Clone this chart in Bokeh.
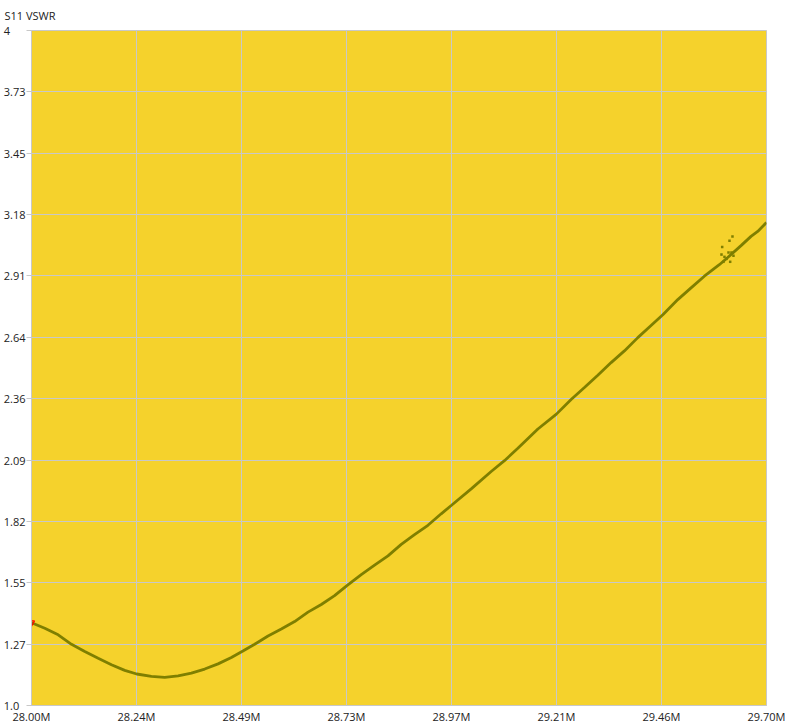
from bokeh.plotting import figure
from bokeh.models import Range1d, FixedTicker, ColumnDataSource
from bokeh.embed import file_html
from bokeh.resources import INLINE

# ---- data ----
freq_mhz = [28.0000, 28.0307, 28.0617, 28.0925, 28.1232, 28.1542, 28.1849, 28.2156,
            28.2434, 28.2774, 28.3081, 28.3391, 28.3698, 28.4006, 28.4315, 28.4623,
            28.4900, 28.5161, 28.5471, 28.5778, 28.6086, 28.6395, 28.6703, 28.7010,
            28.7288, 28.7627, 28.7935, 28.8245, 28.8552, 28.8859, 28.9169, 28.9476,
            28.9708, 29.0170, 29.0632, 29.0939, 29.1249, 29.1712, 29.2141, 29.2481,
            29.2789, 29.3098, 29.3406, 29.3713, 29.4023, 29.4330, 29.4608, 29.4948,
            29.5255, 29.5562, 29.5909, 29.6103, 29.6411, 29.6642, 29.6797, 29.7000]
vswr = [1.368, 1.343, 1.314, 1.272, 1.240, 1.210, 1.181, 1.156,
        1.140, 1.129, 1.125, 1.132, 1.144, 1.162, 1.185, 1.213,
        1.243, 1.272, 1.309, 1.340, 1.373, 1.415, 1.449, 1.488,
        1.532, 1.582, 1.624, 1.665, 1.716, 1.759, 1.801, 1.852,
        1.889, 1.963, 2.040, 2.088, 2.143, 2.229, 2.295, 2.360,
        2.413, 2.468, 2.524, 2.576, 2.635, 2.689, 2.738, 2.804,
        2.856, 2.908, 2.959, 2.991, 3.044, 3.085, 3.107, 3.147]

outlier_freq = [29.5975, 29.6144, 29.6213, 29.5959, 29.6121, 29.6190,
                29.6028, 29.6236, 29.6005, 29.6160, 29.6075]
outlier_vswr = [3.038, 3.066, 3.084, 3.004, 3.013, 3.013,
                2.994, 2.999, 2.972, 2.972, 2.985]

x_ticks = [28.0, 28.2429, 28.4857, 28.7286, 28.9714, 29.2143, 29.4571, 29.7]
x_tick_labels = ["28.00M", "28.24M", "28.49M", "28.73M", "28.97M", "29.21M", "29.46M", "29.70M"]
y_ticks = [1.0, 1.2727, 1.5455, 1.8182, 2.0909, 2.3636, 2.6364, 2.9091, 3.1818, 3.4545, 3.7273, 4.0]
y_tick_labels = ["1.0", "1.27", "1.55", "1.82", "2.09", "2.36", "2.64", "2.91", "3.18", "3.45", "3.73", "4"]

TITLE = "S11 VSWR"

# ---- styles / layout ----
FONT = "Open Sans"
TXT = "#222222"
BG = "#F5D22C"
GRID = "#C8C8C8"
CURVE = "#7F7F00"
W, H = 785, 726
FIGURE_SPACE, PUNCT_SPACE = "\u2007", "\u2008"


def left_pad(s, width=4):
    """Pad on the right with digit/period-wide spaces so right-aligned labels line up on the left."""
    if "." not in s:
        s += PUNCT_SPACE
    while len(s) < width:
        s += FIGURE_SPACE
    return s


p = figure(width=W, height=H, output_backend="svg", toolbar_location=None,
           x_range=Range1d(x_ticks[0], x_ticks[-1]), y_range=Range1d(y_ticks[0], y_ticks[-1]),
           min_border_left=30, min_border_right=19, min_border_top=30, min_border_bottom=18,
           title=TITLE)

p.background_fill_color = BG
p.border_fill_color = "white"
p.outline_line_color = GRID
p.outline_line_width = 1

p.title.text_font = FONT
p.title.text_font_size = "11px"
p.title.text_font_style = "normal"
p.title.text_color = TXT
p.title.align = "left"
p.title.offset = -27
p.title.vertical_align = "top"
p.title.standoff = 12

# x axis
p.xaxis.ticker = FixedTicker(ticks=x_ticks)
p.xaxis.major_label_overrides = {t: l for t, l in zip(x_ticks, x_tick_labels)}
p.xaxis.major_label_text_font = FONT
p.xaxis.major_label_text_font_size = "11px"
p.xaxis.major_label_text_color = TXT
p.xaxis.major_tick_out = 0
p.xaxis.major_tick_in = 0
p.xaxis.minor_tick_out = 0
p.xaxis.minor_tick_in = 0
p.xaxis.major_label_standoff = 3
p.xaxis.axis_line_color = GRID

# y axis
p.yaxis.ticker = FixedTicker(ticks=y_ticks)
p.yaxis.major_label_overrides = {t: left_pad(l) for t, l in zip(y_ticks, y_tick_labels)}
p.yaxis.major_label_text_font = FONT
p.yaxis.major_label_text_font_size = "11px"
p.yaxis.major_label_text_color = TXT
p.yaxis.major_tick_out = 5
p.yaxis.major_tick_in = 0
p.yaxis.minor_tick_out = 0
p.yaxis.minor_tick_in = 0
p.yaxis.major_tick_line_color = GRID
p.yaxis.axis_line_color = GRID
p.yaxis.major_label_standoff = 1

p.xgrid.grid_line_color = GRID
p.ygrid.grid_line_color = GRID
p.xgrid.grid_line_width = 1
p.ygrid.grid_line_width = 1

src = ColumnDataSource(dict(f=freq_mhz, v=vswr))
p.line("f", "v", source=src, line_color=CURVE, line_width=2.8)

p.scatter(outlier_freq, outlier_vswr, marker="square", size=2.5, fill_color=CURVE, line_color=None)

# start marker
p.scatter(freq_mhz[:1], vswr[:1], marker="inverted_triangle", size=6, fill_color=None,
          line_color="red", line_width=1.2)

open("out.html", "w").write(file_html(p, INLINE))
